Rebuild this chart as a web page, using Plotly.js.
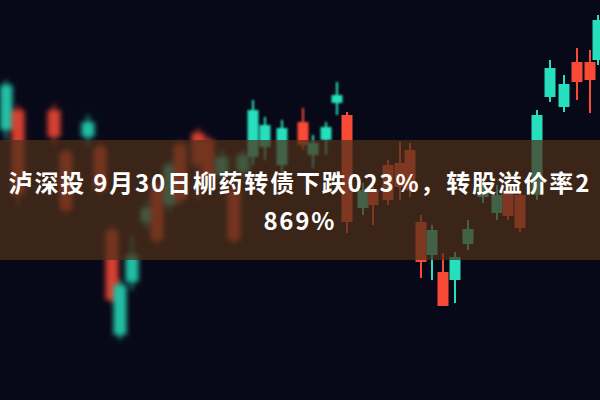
<!DOCTYPE html>
<html>
<head>
<meta charset="utf-8">
<script src="https://cdn.plot.ly/plotly-3.0.1.min.js"></script>
<style>
  html, body { margin: 0; padding: 0; background: #080918; }
  #wrap { position: relative; width: 600px; height: 400px; overflow: hidden; }
  .layer { position: absolute; left: 0; top: 0; width: 600px; height: 400px; }
  #far { filter: blur(2.4px); opacity: 0.85; }
  #mid { filter: blur(0.9px); }
  #near .annotation-text { letter-spacing: 1.8px; }
</style>
</head>
<body>
<div id="wrap">
  <div id="far" class="layer"></div>
  <div id="mid" class="layer"></div>
  <div id="near" class="layer"></div>
</div>
<script>
// Candle positions (horizontal, in picture units) and OHLC values (vertical units, up = larger)
const xs    = [6, 18, 54, 66, 88, 100, 112, 120, 132, 147, 157, 170, 180, 198, 208, 222, 234, 243, 253, 265, 282, 303, 313, 326, 337, 347, 363, 373, 388, 400, 410, 421, 432, 443, 455, 468, 483, 497, 508, 520, 537, 550, 564, 577, 590, 598];
const open  = [315, 205, 263, 190, 278, 210, 100, 115, 145, 192, 160, 235, 200, 235, 220, 243, 160, 245, 290, 275, 272, 255, 257, 273, 305, 178, 210, 195, 200, 213, 210, 138, 170, 94, 143, 171, 212, 205, 184, 172, 285, 332, 316, 318, 320, 380];
const high  = [320, 295, 296, 252, 285, 258, 175, 120, 165, 200, 220, 240, 260, 272, 264, 250, 215, 250, 300, 283, 280, 292, 265, 278, 318, 288, 217, 220, 240, 258, 257, 185, 175, 147, 148, 180, 217, 215, 215, 210, 290, 340, 325, 352, 350, 385];
const low   = [260, 195, 255, 185, 254, 205, 97, 60, 110, 170, 155, 188, 195, 200, 214, 218, 155, 220, 235, 240, 225, 250, 232, 245, 285, 167, 185, 175, 195, 200, 203, 122, 120, 94, 97, 150, 197, 180, 180, 168, 200, 298, 288, 300, 287, 335];
const close = [270, 290, 290, 248, 263, 253, 170, 65, 118, 178, 215, 195, 255, 267, 260, 225, 210, 228, 243, 253, 235, 278, 245, 260, 297, 285, 192, 210, 235, 237, 250, 178, 145, 128, 120, 156, 203, 187, 210, 205, 205, 303, 293, 338, 338, 340];

const titleLine1 = '泸深投 9月30日柳药转债下跌023%，转股溢价率2';
const titleLine2 = '869%';

const UP = '#f84a35', DOWN = '#27dfbd';

function candleTraces(sel, bodyW) {
  const idx = xs.map((_, i) => i).filter(sel);
  const px = idx.map(i => xs[i]);
  const col = idx.map(i => close[i] >= open[i] ? UP : DOWN);
  return [
    { type: 'bar', x: px, base: idx.map(i => low[i]), y: idx.map(i => high[i] - low[i]),
      width: 2, marker: { color: col, line: { width: 0 } }, hoverinfo: 'skip', showlegend: false },
    { type: 'bar', x: px, base: idx.map(i => Math.min(open[i], close[i])),
      y: idx.map(i => Math.max(Math.abs(close[i] - open[i]), 1)),
      width: bodyW, marker: { color: col, line: { width: 0 } }, hoverinfo: 'skip', showlegend: false }
  ];
}

function baseLayout(bg) {
  return {
    width: 600, height: 400,
    margin: { l: 0, r: 0, t: 0, b: 0, pad: 0 },
    paper_bgcolor: bg, plot_bgcolor: 'rgba(0,0,0,0)',
    barmode: 'overlay', showlegend: false, hovermode: false,
    xaxis: { range: [0, 600], visible: false, fixedrange: true },
    yaxis: { range: [0, 400], visible: false, fixedrange: true }
  };
}

const cfg = { staticPlot: true, displayModeBar: false };

Plotly.newPlot('far', candleTraces(i => xs[i] < 245, 13), baseLayout('#080918'), cfg);
Plotly.newPlot('mid', candleTraces(i => xs[i] >= 245 && xs[i] < 340, 11), baseLayout('rgba(0,0,0,0)'), cfg);

const topLayout = baseLayout('rgba(0,0,0,0)');
topLayout.shapes = [{
  type: 'rect', layer: 'above', xref: 'paper', x0: 0, x1: 1, yref: 'y', y0: 140, y1: 260,
  fillcolor: 'rgba(79,48,25,0.72)', line: { width: 0 }
}];
const tfont = { family: '"Noto Sans CJK SC", "Noto Sans", sans-serif', size: 24, color: '#ffffff', weight: 'bold' };
topLayout.annotations = [
  { text: '<b>' + titleLine1 + '</b>', x: 300, y: 219, xref: 'x', yref: 'y', xanchor: 'center', yanchor: 'middle', showarrow: false, font: tfont },
  { text: '<b>' + titleLine2 + '</b>', x: 300, y: 181, xref: 'x', yref: 'y', xanchor: 'center', yanchor: 'middle', showarrow: false, font: tfont }
];
Plotly.newPlot('near', candleTraces(i => xs[i] >= 340, 11), topLayout, cfg);
</script>
</body>
</html>
